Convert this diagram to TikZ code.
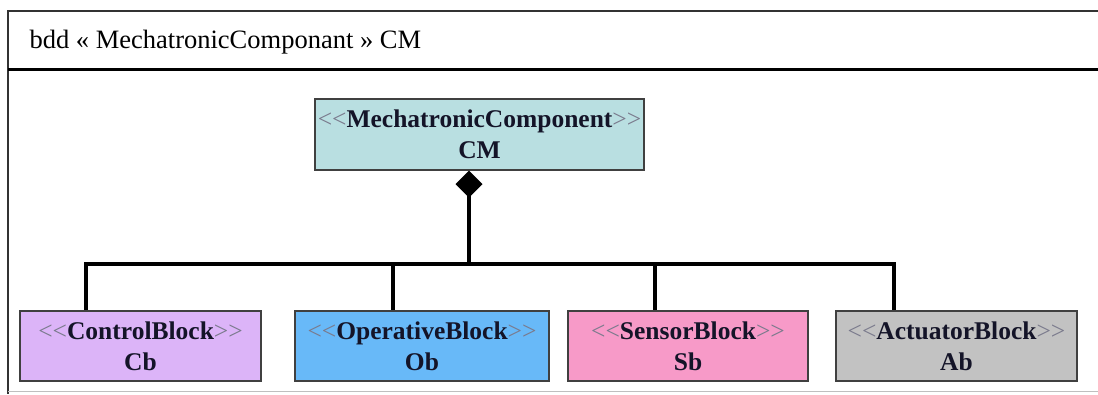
\documentclass[tikz,border=0pt]{standalone}
\usepackage{fontspec}
\setmainfont{Liberation Serif}
\usepackage{xcolor}
\usepackage{tikz}
\usetikzlibrary{arrows.meta, positioning, calc}

\definecolor{cmfill}{HTML}{B9DFE1}
\definecolor{cbfill}{HTML}{DCB4F8}
\definecolor{obfill}{HTML}{68B9F8}
\definecolor{sbfill}{HTML}{F79AC8}
\definecolor{abfill}{HTML}{C2C2C2}
\definecolor{stgray}{HTML}{7A7A8C}
\definecolor{txtdark}{HTML}{141428}
\newcommand{\sttag}[1]{{\mdseries\color{stgray}<{}<}#1{\mdseries\color{stgray}>{}>}}

\begin{document}
\begin{tikzpicture}[x=1pt, y=-1pt,
    blockbox/.style={draw=black!75, line width=1.2pt, align=center, inner sep=0pt,
        text=txtdark, font=\fontsize{25.5}{31}\selectfont\bfseries, minimum height=71},
    link/.style={line width=4pt}]
\useasboundingbox (0,0) rectangle (1098,394);

% frame and title
\draw[black!80, line width=1.2pt] (1098,11) -- (8,11) -- (8,394);
\draw[black!25, line width=0.8pt] (8,391) -- (1098,391);
\draw[line width=3pt] (8,69) -- (1098,69);
\node[anchor=base west, font=\fontsize{26.5}{30}\selectfont] (title) at (26,48) {bdd « MechatronicComponant » CM};

% blocks
\node[blockbox, fill=cmfill, minimum width=329] (CM) at (479.5,134.5) {\sttag{MechatronicComponent}\\CM};
\node[blockbox, fill=cbfill, minimum width=241, minimum height=70] (Cb) at (140.5,346) {\sttag{ControlBlock}\\Cb};
\node[blockbox, fill=obfill, minimum width=254, minimum height=70] (Ob) at (422,346) {\sttag{OperativeBlock}\\Ob};
\node[blockbox, fill=sbfill, minimum width=240, minimum height=70] (Sb) at (688,346) {\sttag{SensorBlock}\\Sb};
\node[blockbox, fill=abfill, minimum width=241, minimum height=70] (Ab) at (956.5,346) {\sttag{ActuatorBlock}\\Ab};

% composition bus
\coordinate (hub) at (469,264);
\coordinate (jCb) at (86,264);
\coordinate (jOb) at (393,264);
\coordinate (jSb) at (655,264);
\coordinate (jAb) at (894,264);
\draw[link, -{Diamond[length=27pt, width=27pt]}] (hub) -- (hub |- CM.south);
\draw[link, line cap=rect] (jCb) -- (jAb);
\foreach \j/\b in {jCb/Cb, jOb/Ob, jSb/Sb, jAb/Ab} {
    \draw[link] (\j) -- (\j |- \b.north);
}
\end{tikzpicture}
\end{document}
